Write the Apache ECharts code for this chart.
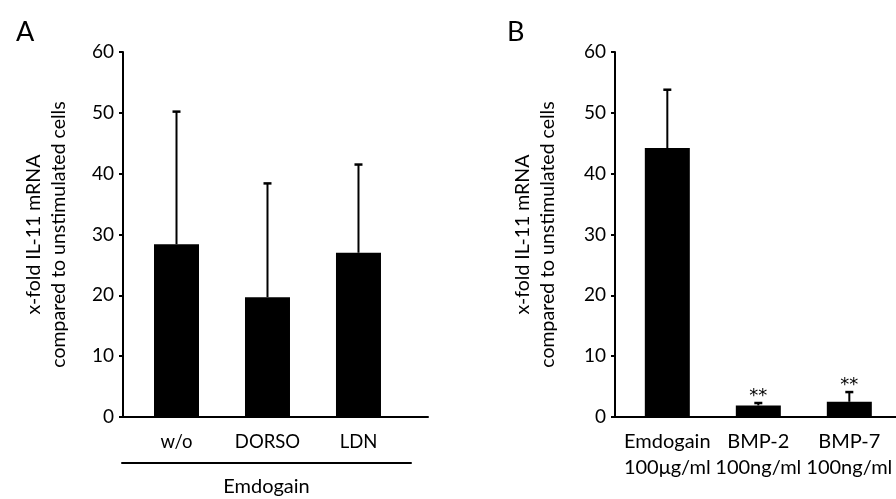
<!DOCTYPE html>
<html>
<head>
<meta charset="utf-8">
<script src="https://cdn.jsdelivr.net/npm/echarts@6/dist/echarts.min.js"></script>
<style>
html,body{margin:0;padding:0;background:#fff;}
#chart{width:896px;height:499px;}
</style>
</head>
<body>
<div id="chart"></div>
<script>
// ---- data ----
const categoriesA = ['w/o', 'DORSO', 'LDN'];
const meanA = [28.4, 19.7, 27.0];
const errTopA = [50.2, 38.4, 41.5];

const categoriesB = ['Emdogain\n100μg/ml', 'BMP-2\n100ng/ml', 'BMP-7\n100ng/ml'];
const meanB = [44.2, 1.9, 2.5];
const errTopB = [53.8, 2.3, 4.1];
const sigB = ['', '**', '**'];

const yTicks = {min: 0, max: 60, interval: 10};
const yTitle = 'x-fold IL-11 mRNA\ncompared to unstimulated cells';
const groupLabelA = 'Emdogain';

// ---- helpers ----
const FONT = 'Lato, "Noto Sans", sans-serif';
const positions = [1, 2, 3];
function pairs(vals) { return vals.map((v, i) => [positions[i], v]); }
function errData(mean, top, sig) { return mean.map((v, i) => [positions[i], v, top[i], sig ? sig[i] : '']); }

function errRender(params, api) {
  const x = api.value(0);
  const base = api.coord([x, api.value(1)]);
  const top = api.coord([x, api.value(2)]);
  const sig = api.value(3);
  const children = [
    {type: 'line', shape: {x1: base[0], y1: base[1], x2: top[0], y2: top[1]}, style: {stroke: '#000', lineWidth: 2}},
    {type: 'line', shape: {x1: top[0] - 4, y1: top[1], x2: top[0] + 4, y2: top[1]}, style: {stroke: '#000', lineWidth: 2.5}}
  ];
  if (sig) {
    children.push({type: 'text', x: top[0], y: top[1] + 2, style: {text: sig, fontSize: 18, fontFamily: '"DejaVu Sans", sans-serif', fill: '#000', align: 'center', verticalAlign: 'bottom'}});
  }
  return {type: 'group', children: children};
}

function yAxisCfg(grid, gap) {
  return {
    type: 'value', gridIndex: grid, min: yTicks.min, max: yTicks.max, interval: yTicks.interval,
    name: yTitle, nameLocation: 'middle', nameRotate: 90, nameGap: gap,
    nameTextStyle: {fontSize: 19.5, fontFamily: FONT, color: '#000', lineHeight: 25},
    axisLine: {show: true, lineStyle: {color: '#000', width: 2}},
    axisTick: {show: true, length: 4, lineStyle: {color: '#000', width: 2}},
    axisLabel: {fontSize: 19, fontFamily: FONT, color: '#000', margin: 9},
    splitLine: {show: false}
  };
}

function xAxisCfg(grid, min, max, cats, margin, lh, fs) {
  return {
    type: 'value', gridIndex: grid, min: min, max: max,
    axisLine: {show: true, onZero: false, lineStyle: {color: '#000', width: 2}},
    axisTick: {show: false},
    splitLine: {show: false},
    axisLabel: {
      customValues: positions, hideOverlap: false,
      formatter: (v) => cats[Math.round(v) - 1] || '',
      fontSize: fs, fontFamily: FONT, color: '#000', margin: margin, lineHeight: lh
    }
  };
}

const chart = echarts.init(document.getElementById('chart'));
chart.setOption({
  animation: false,
  backgroundColor: '#fff',
  title: [
    {text: 'A', left: 11, top: 14, textStyle: {fontSize: 27, fontWeight: 'normal', fontFamily: FONT, color: '#000'}},
    {text: 'B', left: 502, top: 14, textStyle: {fontSize: 27, fontWeight: 'normal', fontFamily: FONT, color: '#000'}}
  ],
  grid: [
    {left: 123, right: 468, top: 52, bottom: 82},
    {left: 615, right: 0, top: 52, bottom: 82},
    {left: 122, right: 485, top: 462, bottom: 36}
  ],
  xAxis: [
    xAxisCfg(0, 0.412, 3.764, categoriesA, 14, 22, 18.5),
    xAxisCfg(1, 0.425, 3.513, categoriesB, 12, 26, 20),
    {
      type: 'value', gridIndex: 2, min: 0, max: 1,
      axisLine: {show: true, lineStyle: {color: '#000', width: 2}},
      axisTick: {show: false}, axisLabel: {show: false}, splitLine: {show: false},
      name: groupLabelA, nameLocation: 'middle', nameGap: 14,
      nameTextStyle: {fontSize: 20, fontFamily: FONT, color: '#000', verticalAlign: 'top'}
    }
  ],
  yAxis: [
    yAxisCfg(0, 52),
    yAxisCfg(1, 55),
    {type: 'value', gridIndex: 2, show: false, min: 0, max: 1}
  ],
  series: [
    {type: 'bar', xAxisIndex: 0, yAxisIndex: 0, data: pairs(meanA), barWidth: 45, itemStyle: {color: '#000'}},
    {type: 'custom', xAxisIndex: 0, yAxisIndex: 0, data: errData(meanA, errTopA), renderItem: errRender, z: 3},
    {type: 'bar', xAxisIndex: 1, yAxisIndex: 1, data: pairs(meanB), barWidth: 45, itemStyle: {color: '#000'}},
    {type: 'custom', xAxisIndex: 1, yAxisIndex: 1, data: errData(meanB, errTopB, sigB), renderItem: errRender, z: 3}
  ]
});
</script>
</body>
</html>
